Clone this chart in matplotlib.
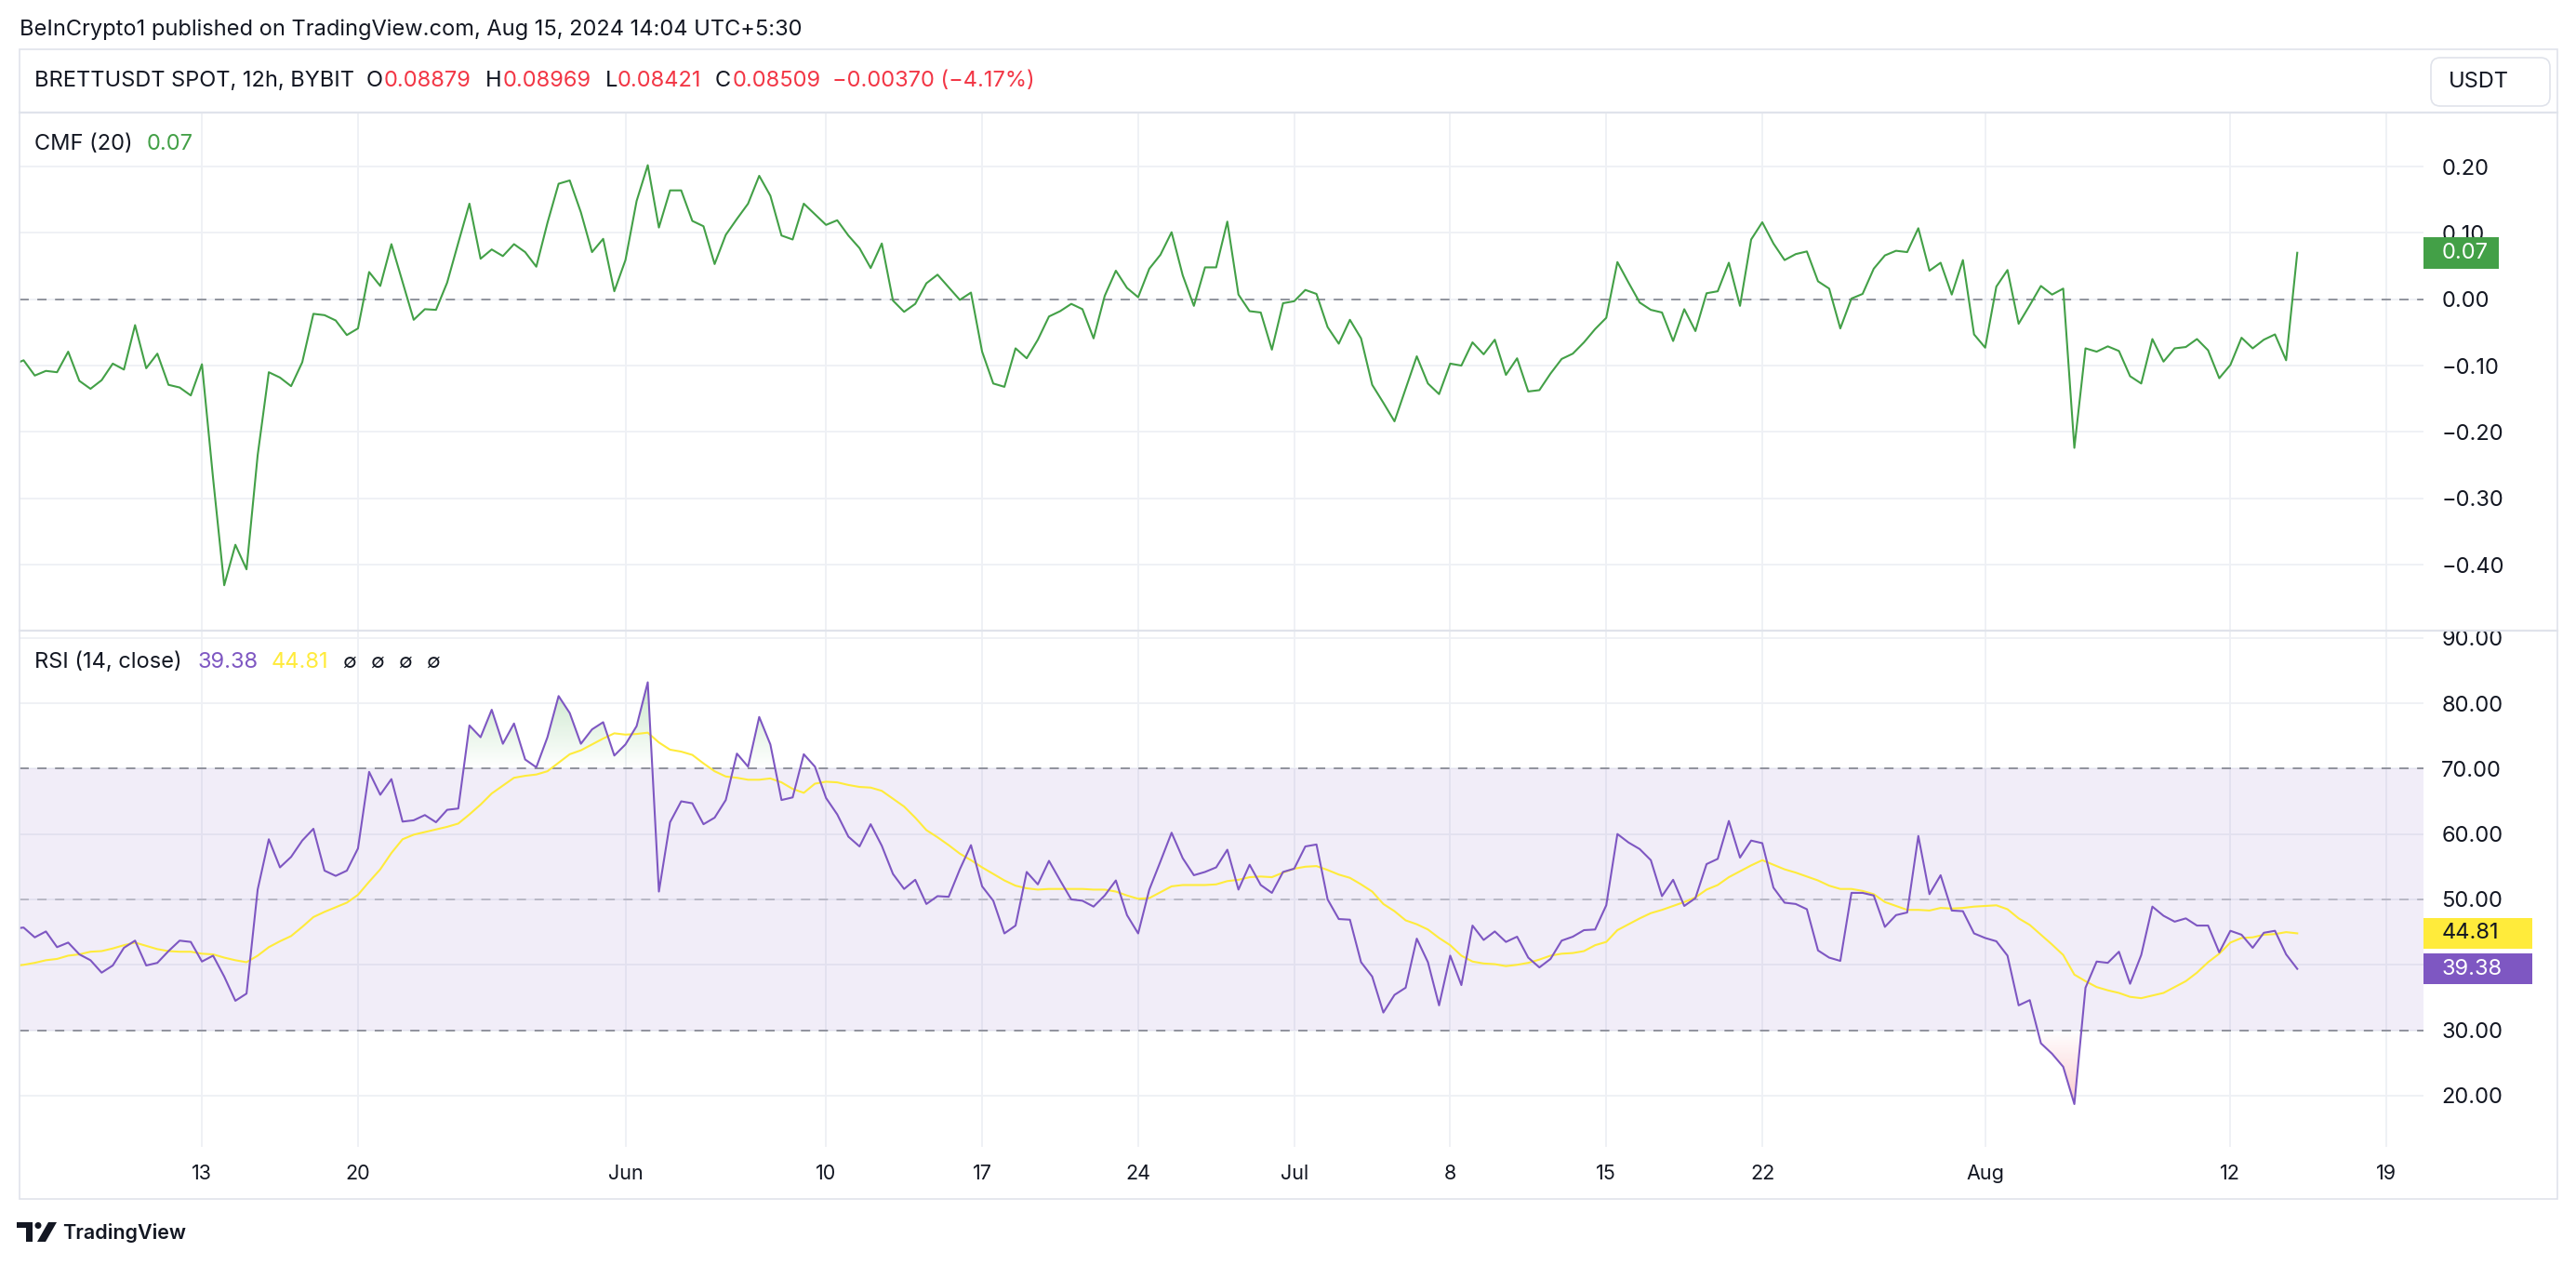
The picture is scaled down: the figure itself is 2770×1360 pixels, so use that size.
import matplotlib
matplotlib.use('Agg')
import matplotlib.pyplot as plt
import matplotlib.dates as mdates
import matplotlib.transforms as mtransforms
from matplotlib.patches import Rectangle, FancyBboxPatch, Circle, Polygon
from matplotlib.lines import Line2D
from matplotlib.path import Path
import numpy as np
import pandas as pd

plt.rcParams['font.family'] = ['Inter', 'DejaVu Sans']

W_PX, H_PX = 2770, 1360

DARK = '#131722'
RED = '#f23645'
GREEN = '#43a047'
PURPLE = '#7e57c2'
YELLOW = '#ffeb3b'
GRID = '#eef0f5'
BORDER = '#e0e3eb'
DASH = '#787b86'

# 12h bars, the first one sits just left of the visible area
bar_start = '2024-05-04 12:00'

cmf = [
    -0.099,
    -0.092, -0.115, -0.108, -0.110, -0.079, -0.123, -0.135, -0.122, -0.097, -0.106,
    -0.039, -0.104, -0.082, -0.129, -0.133, -0.145, -0.098, -0.270, -0.431, -0.370,
    -0.407, -0.235, -0.110, -0.118, -0.131, -0.095, -0.022, -0.024, -0.032, -0.054,
    -0.044, 0.041, 0.020, 0.083, 0.026, -0.031, -0.015, -0.016, 0.025, 0.085,
    0.144, 0.061, 0.075, 0.065, 0.083, 0.071, 0.049, 0.115, 0.174, 0.179,
    0.131, 0.071, 0.091, 0.012, 0.059, 0.148, 0.202, 0.108, 0.164, 0.164,
    0.118, 0.110, 0.053, 0.097, 0.121, 0.144, 0.186, 0.156, 0.096,
    0.090, 0.144, 0.128, 0.112, 0.119, 0.096, 0.077, 0.047, 0.084, -0.002,
    -0.019, -0.007, 0.024, 0.037, 0.018, -0.001, 0.010, -0.079, -0.127, -0.132,
    -0.074, -0.089, -0.061, -0.026, -0.018, -0.007, -0.015, -0.059, 0.005, 0.043,
    0.017, 0.003, 0.046, 0.067, 0.101, 0.036, -0.010, 0.048, 0.048, 0.117,
    0.007, -0.018, -0.020, -0.076, -0.006, -0.003, 0.014, 0.008, -0.042, -0.067,
    -0.031, -0.059, -0.129, -0.156, -0.184, -0.135, -0.086, -0.127, -0.143, -0.097,
    -0.100, -0.065, -0.083, -0.061, -0.114, -0.089, -0.139, -0.137, -0.112,
    -0.090, -0.082, -0.065, -0.045, -0.028, 0.056, 0.025, -0.005, -0.016, -0.020,
    -0.063, -0.015, -0.048, 0.009, 0.012, 0.055, -0.010, 0.090, 0.116, 0.084,
    0.059, 0.068, 0.072, 0.027, 0.016, -0.044, 0.001, 0.008, 0.046, 0.066,
    0.073, 0.071, 0.107, 0.043, 0.055, 0.007, 0.059, -0.053, -0.073, 0.019,
    0.044, -0.037, -0.009, 0.020, 0.007, 0.016, -0.224, -0.074, -0.079, -0.071,
    -0.078, -0.116, -0.127, -0.060, -0.094, -0.074, -0.072, -0.060, -0.077, -0.119,
    -0.099, -0.058, -0.074, -0.061, -0.053, -0.092, 0.070,
]

rsi = [
    45.5,
    45.7, 44.2, 45.1, 42.7, 43.4, 41.6, 40.7, 38.8, 39.9, 42.6,
    43.7, 39.9, 40.3, 42.1, 43.7, 43.5, 40.5, 41.4, 38.2, 34.5,
    35.6, 51.5, 59.2, 54.9, 56.5, 59.0, 60.8, 54.4, 53.6, 54.4,
    57.8, 69.5, 66.0, 68.4, 61.9, 62.1, 62.9, 61.8, 63.7, 63.9,
    76.6, 74.8, 79.0, 73.8, 76.9, 71.4, 70.2, 74.8, 81.1, 78.5,
    73.8, 76.0, 77.1, 72.0, 73.7, 76.5, 83.2, 51.2, 61.8, 65.0,
    64.7, 61.5, 62.5, 65.2, 72.3, 70.3, 77.9, 73.7, 65.2,
    65.6, 72.2, 70.3, 65.5, 63.0, 59.6, 58.1, 61.5, 58.2, 53.9,
    51.6, 53.0, 49.3, 50.5, 50.4, 54.6, 58.3, 52.0, 49.8, 44.8,
    46.0, 54.2, 52.3, 55.9, 52.9, 50.0, 49.8, 48.9, 50.6, 52.9,
    47.6, 44.8, 51.5, 55.8, 60.2, 56.3, 53.7, 54.2, 54.9, 57.6,
    51.5, 55.3, 52.2, 51.0, 54.2, 54.7, 58.1, 58.4, 50.0, 47.0,
    46.9, 40.4, 38.2, 32.7, 35.4, 36.5, 44.0, 40.4, 33.8, 41.4,
    36.9, 46.0, 43.8, 45.1, 43.5, 44.3, 41.1, 39.6, 40.9,
    43.7, 44.3, 45.3, 45.4, 49.1, 60.0, 58.7, 57.7, 56.0, 50.5,
    53.0, 49.0, 50.2, 55.4, 56.2, 62.0, 56.4, 59.0, 58.6, 51.8,
    49.5, 49.3, 48.5, 42.2, 41.1, 40.6, 51.0, 51.0, 50.6, 45.8,
    47.6, 48.0, 59.7, 50.8, 53.7, 48.3, 48.2, 44.8, 44.1, 43.6,
    41.4, 33.8, 34.6, 28.0, 26.4, 24.4, 18.7, 36.5, 40.5, 40.3,
    42.0, 37.1, 41.5, 48.9, 47.5, 46.6, 47.1, 46.0, 46.0, 41.9,
    45.2, 44.6, 42.6, 44.9, 45.2, 41.6, 39.38,
]

rsi_ma = [
    39.8,
    40.0, 40.3, 40.7, 40.9, 41.4, 41.6, 42.0, 42.1, 42.5, 43.0,
    43.4, 42.9, 42.4, 42.1, 42.0, 42.0, 41.7, 41.6, 41.1, 40.7,
    40.4, 41.4, 42.7, 43.6, 44.4, 45.8, 47.3, 48.1, 48.8, 49.5,
    50.7, 52.7, 54.6, 57.1, 59.2, 59.9, 60.3, 60.7, 61.1, 61.6,
    63.0, 64.5, 66.2, 67.4, 68.6, 68.9, 69.1, 69.6, 70.9, 72.2,
    72.8, 73.7, 74.6, 75.4, 75.2, 75.3, 75.5, 74.0, 72.9, 72.6,
    72.1, 70.8, 69.6, 68.8, 68.6, 68.3, 68.3, 68.5, 67.9,
    66.9, 66.3, 67.7, 68.0, 67.9, 67.5, 67.2, 67.1, 66.6, 65.4,
    64.2, 62.5, 60.6, 59.5, 58.3, 57.0, 56.0, 54.9, 53.9, 52.9,
    52.1, 51.7, 51.5, 51.6, 51.6, 51.6, 51.6, 51.5, 51.5, 51.2,
    50.6, 50.1, 50.2, 51.1, 52.0, 52.2, 52.2, 52.2, 52.3, 52.8,
    53.0, 53.4, 53.5, 53.4, 54.1, 54.7, 55.0, 55.1, 54.5, 53.8,
    53.3, 52.3, 51.2, 49.3, 48.2, 46.8, 46.2, 45.4, 44.1, 43.0,
    41.4, 40.5, 40.2, 40.1, 39.8, 40.0, 40.3, 40.8, 41.4,
    41.7, 41.8, 42.1, 43.0, 43.5, 45.3, 46.2, 47.1, 47.9, 48.4,
    49.0, 49.6, 50.3, 51.5, 52.2, 53.4, 54.3, 55.2, 56.0, 55.3,
    54.6, 54.1, 53.5, 52.9, 52.1, 51.6, 51.6, 51.3, 50.8, 49.6,
    49.0, 48.4, 48.4, 48.3, 48.7, 48.6, 48.7, 48.9, 49.0, 49.1,
    48.5, 47.1, 46.1, 44.6, 43.1, 41.5, 38.5, 37.5, 36.6, 36.1,
    35.7, 35.1, 34.9, 35.3, 35.7, 36.6, 37.5, 38.8, 40.4, 41.7,
    43.4, 44.1, 44.2, 44.6, 44.7, 45.0, 44.81,
]

tick_dates = ['2024-05-13', '2024-05-20', '2024-06-01', '2024-06-10', '2024-06-17',
              '2024-06-24', '2024-07-01', '2024-07-08', '2024-07-15', '2024-07-22',
              '2024-08-01', '2024-08-12', '2024-08-19']
tick_labels = ['13', '20', 'Jun', '10', '17', '24', 'Jul', '8', '15', '22', 'Aug', '12', '19']

cmf_ticks = [0.2, 0.1, 0.0, -0.1, -0.2, -0.3, -0.4]
rsi_ticks = [90, 80, 70, 60, 50, 40, 30, 20]

title = 'BeInCrypto1 published on TradingView.com, Aug 15, 2024 14:04 UTC+5:30'
# symbol line: (text, colour, x position in px)
header = [('BRETTUSDT SPOT, 12h, BYBIT', DARK, 37), ('O', DARK, 394), ('0.08879', RED, 413),
          ('H', DARK, 522), ('0.08969', RED, 541), ('L', DARK, 651), ('0.08421', RED, 664),
          ('C', DARK, 769), ('0.08509', RED, 788), ('\u22120.00370 (\u22124.17%)', RED, 895)]

FS = 17


def px(x, y):
    ''' pixel (top-left origin) -> inches for fig.dpi_scale_trans '''
    return x / 100, (H_PX - y) / 100


def fmt_num(v):
    return '{:.2f}'.format(v).replace('-', '\u2212')


def gradient_fill(ax, xs, ys, level, above, rgb, a_max, far):
    ''' fill between line and level with a fading colour '''
    ys = np.asarray(ys)
    where = ys >= level if above else ys <= level
    coll = ax.fill_between(xs, ys, level, where=where, interpolate=True,
                           facecolor='none', edgecolor='none')
    paths = coll.get_paths()
    if not paths:
        return
    clip = Path.make_compound_path(*paths)
    n = 256
    img = np.zeros((n, 1, 4))
    img[..., :3] = matplotlib.colors.to_rgb(rgb)
    img[:, 0, 3] = np.linspace(0, a_max, n)
    im = ax.imshow(img, extent=[xs[0], xs[-1], level, far], origin='lower',
                   aspect='auto', interpolation='bilinear', zorder=2)
    im.set_clip_path(clip, ax.transData)


def badge(ax, value, text, fc, tc, w_px, h_px):
    trans = mtransforms.blended_transform_factory(ax.transAxes, ax.transData)
    pos = ax.get_position()
    ax_w = pos.width * W_PX
    ax_h = pos.height * H_PX
    y0, y1 = ax.get_ylim()
    dy = (y1 - y0) / ax_h
    ax.add_patch(Rectangle((1.0, value - h_px / 2 * dy), w_px / ax_w, h_px * dy,
                           transform=trans, clip_on=False, fc=fc, ec='none', zorder=6))
    ax.text(1.0 + 19.5 / ax_w, value, text, transform=trans, clip_on=False,
            ha='left', va='center', color=tc, fontsize=17, zorder=7)


def style_axes(ax, ticks, labels, ylim):
    for s in ax.spines.values():
        s.set_visible(False)
    for t in ticks:
        ax.axhline(t, color=GRID, lw=1.3, zorder=0)
    for d in tick_dates:
        ax.axvline(mdates.date2num(pd.Timestamp(d)), color=GRID, lw=1.3, zorder=0)
    ax.yaxis.tick_right()
    ax.set_yticks(ticks)
    ax.set_yticklabels(labels)
    ax.tick_params(axis='y', length=0, pad=14, labelsize=17, labelcolor=DARK)
    ax.set_ylim(*ylim)
    ax.set_xlim(x_left, x_right)


def main():
    global x_left, x_right
    dates = pd.date_range(bar_start, periods=len(cmf), freq='12h')
    xs = mdates.date2num(dates.to_pydatetime())
    x_left = mdates.date2num(pd.Timestamp('2024-05-13') - pd.Timedelta(days=8.2))
    x_right = mdates.date2num(pd.Timestamp('2024-05-13') + pd.Timedelta(days=99.65))

    fig = plt.figure(figsize=(W_PX / 100, H_PX / 100), dpi=100)
    fig.patch.set_facecolor('white')

    left = 20.6 / W_PX
    width = (2605.7 - 20.6) / W_PX
    ax1 = fig.add_axes([left, 1 - 678 / H_PX, width, (678 - 121) / H_PX])
    ax2 = fig.add_axes([left, 1 - 1233 / H_PX, width, (1233 - 678) / H_PX])

    ''' CMF '''
    ax1.plot(xs, cmf, color=GREEN, lw=1.5, zorder=3)
    ax1.axhline(0, color=DASH, lw=1.1, dashes=(6.5, 6), zorder=2)
    style_axes(ax1, cmf_ticks, [fmt_num(t) for t in cmf_ticks], (-0.4994, 0.2813))
    ax1.set_xticks([])

    ''' RSI '''
    ax2.axhspan(30, 70, color=PURPLE, alpha=0.1, lw=0, zorder=1)
    ax2.axhline(70, color=DASH, lw=1.1, dashes=(6.5, 6), zorder=2)
    ax2.axhline(30, color=DASH, lw=1.1, dashes=(6.5, 6), zorder=2)
    ax2.axhline(50, color=DASH, lw=1.1, dashes=(6.5, 6), alpha=0.5, zorder=2)
    gradient_fill(ax2, xs, rsi, 70, True, '#4caf50', 0.32, 84)
    gradient_fill(ax2, xs, rsi, 30, False, RED, 0.28, 18)
    ax2.plot(xs, rsi_ma, color=YELLOW, lw=1.5, zorder=3)
    ax2.plot(xs, rsi, color=PURPLE, lw=1.5, zorder=4)
    style_axes(ax2, rsi_ticks, ['{:.2f}'.format(t) for t in rsi_ticks], (12.16, 91.1))
    ax2.set_xticks([mdates.date2num(pd.Timestamp(d)) for d in tick_dates])
    ax2.set_xticklabels(tick_labels)
    ax2.tick_params(axis='x', length=0, pad=14, labelsize=15.5, labelcolor=DARK)

    badge(ax1, cmf[-1], fmt_num(cmf[-1]), GREEN, 'white', 81, 34)
    badge(ax2, rsi_ma[-1], fmt_num(rsi_ma[-1]), YELLOW, DARK, 117, 33)
    badge(ax2, rsi[-1], fmt_num(rsi[-1]), PURPLE, 'white', 117, 33)

    ''' Ramki i napisy '''
    tr = fig.dpi_scale_trans
    x0, y0 = px(20.6, 1289)
    x1, y1 = px(2750, 53)
    fig.patches.append(Rectangle((x0, y0), x1 - x0, y1 - y0, transform=tr,
                                 fill=False, ec=BORDER, lw=1.2))
    for yy in (121, 678):
        fig.lines.append(Line2D([x0, x1], [px(0, yy)[1]] * 2, transform=tr,
                                color=BORDER, lw=1.6))

    fig.text(*px(21, 32), title, transform=tr, ha='left', va='center',
             fontsize=FS, color=DARK)
    for txt, col, xx in header:
        fig.text(*px(xx, 87), txt, transform=tr, ha='left', va='center',
                 fontsize=FS, color=col)

    bx, by = px(2614, 114)
    fig.patches.append(FancyBboxPatch((bx, by), 1.28, 0.52, transform=tr,
                                      boxstyle='round,pad=0,rounding_size=0.1',
                                      fc='white', ec=BORDER, lw=1.2))
    fig.text(*px(2633, 88), 'USDT', transform=tr, ha='left', va='center',
             fontsize=FS, color=DARK)

    fig.text(*px(37, 155), 'CMF (20)', transform=tr, ha='left', va='center',
             fontsize=FS, color=DARK)
    fig.text(*px(158, 155), fmt_num(cmf[-1]), transform=tr, ha='left', va='center',
             fontsize=FS, color=GREEN)

    fig.text(*px(37, 712), 'RSI (14, close)', transform=tr, ha='left', va='center',
             fontsize=FS, color=DARK)
    fig.text(*px(212, 712), fmt_num(rsi[-1]), transform=tr, ha='left', va='center',
             fontsize=FS, color=PURPLE)
    fig.text(*px(292, 712), fmt_num(rsi_ma[-1]), transform=tr, ha='left', va='center',
             fontsize=FS, color=YELLOW)
    for xx in (368, 398, 428, 458):
        fig.text(*px(xx, 712), '\u2205', transform=tr, ha='left', va='center',
                 fontsize=15.5, color=DARK)

    # logo TradingView
    fig.patches.append(Polygon([px(18, 1314), px(35, 1314), px(35, 1335), px(28, 1335),
                                px(28, 1320), px(18, 1320)], closed=True,
                               transform=tr, fc=DARK, ec='none'))
    fig.patches.append(Circle(px(41, 1317.5), 0.035, transform=tr, fc=DARK, ec='none'))
    fig.patches.append(Polygon([px(52, 1314), px(61, 1314), px(49, 1335), px(40, 1335)],
                               closed=True, transform=tr, fc=DARK, ec='none'))
    fig.text(*px(67, 1325), 'TradingView', transform=tr, ha='left', va='center',
             fontsize=15.5, fontweight='semibold', color=DARK)

    fig.savefig('out.png', dpi=100, facecolor='white')


if __name__ == "__main__":
    main()
